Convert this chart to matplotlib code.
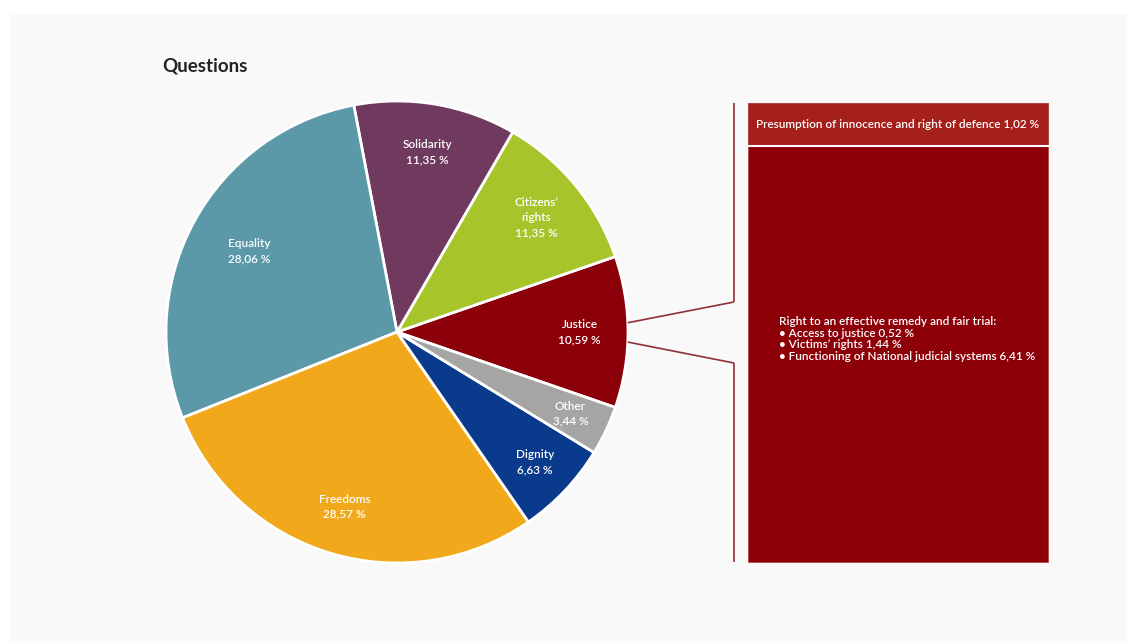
import numpy as np
import matplotlib
matplotlib.use('Agg')
import matplotlib.pyplot as plt
from matplotlib.patches import Rectangle

# Share of questions per Charter chapter (%), counter-clockwise from Justice
chapters = ['Justice', 'Citizens\u2019\nrights', 'Solidarity', 'Equality',
            'Freedoms', 'Dignity', 'Other']
shares = [10.59, 11.35, 11.35, 28.06, 28.57, 6.63, 3.44]
colours = ['#8c0009', '#a7c52a', '#6f3a5e', '#5b99a9', '#f1a91b',
           '#0a3a8b', '#a5a5a3']

# Breakdown of the Justice chapter
header_text = 'Presumption of innocence and right of defence 1,02 %'
detail_title = 'Right to an effective remedy and fair trial:'
detail_items = ['Access to justice 0,52 %', 'Victims\u2019 rights 1,44 %',
                'Functioning of National judicial systems 6,41 %']

W, H = 1127, 643
BG = '#f9f9f9'
FONT = ['Lato', 'DejaVu Sans']


def fmt(v):
    return '{:.2f} %'.format(v).replace('.', ',')


fig = plt.figure(figsize=(W / 100, H / 100), dpi=100, facecolor=BG)
ax = fig.add_axes([0, 0, 1, 1])
ax.set_facecolor(BG)

# white strips along the top and left edge
ax.add_patch(Rectangle((0, H - 13), W, 13, color='white', zorder=0))
ax.add_patch(Rectangle((0, 0), 9, H, color='white', zorder=0))

cx, cy, R = 397, H - 332, 231
start = -shares[0] * 3.6 / 2
wedges, _ = ax.pie(shares, colors=colours, startangle=start,
                   counterclock=True, center=(cx, cy), radius=R, frame=True,
                   wedgeprops=dict(edgecolor='white', linewidth=2))

# slice labels, placed along each wedge's bisector
label_r = [0.79, 0.78, 0.79, 0.73, 0.79, 0.82, 0.83]
for w, name, val, fr in zip(wedges, chapters, shares, label_r):
    ang = np.deg2rad((w.theta1 + w.theta2) / 2)
    ax.text(cx + fr * R * np.cos(ang), cy + fr * R * np.sin(ang),
            name + '\n' + fmt(val), ha='center', va='center', color='white',
            fontsize=8.5, linespacing=1.45, family=FONT, fontweight='semibold')

# bracket joining the Justice slice to the detail box
line_kw = dict(color='#8e3035', lw=1.2, solid_capstyle='butt')
bx = 734
for a, yb, yend in [(2.3, H - 302, H - 103), (-2.5, H - 363, H - 562)]:
    t = np.deg2rad(a)
    ax.plot([cx + R * np.cos(t), bx], [cy + R * np.sin(t), yb], **line_kw)
    ax.plot([bx, bx], [yb, yend], **line_kw)

# detail box
x0, x1 = 748, 1048
top, sep, bot = H - 103, H - 146, H - 562
ax.add_patch(Rectangle((x0, bot), x1 - x0, top - bot, facecolor='#8e0008',
                       edgecolor='#b4474a', lw=0.6))
ax.add_patch(Rectangle((x0, sep), x1 - x0, top - sep, facecolor='#a51f1b',
                       edgecolor='#b4474a', lw=0.6))
ax.plot([x0, x1], [sep, sep], color='white', lw=1.5)
ax.text((x0 + x1) / 2, (top + sep) / 2, header_text, ha='center', va='center',
        color='white', fontsize=8.5, family=FONT, fontweight='semibold')
detail = detail_title + '\n' + '\n'.join('\u2022 ' + s for s in detail_items)
ax.text(779, H - 339, detail, ha='left', va='center', color='white',
        fontsize=8.5, linespacing=1.1, family=FONT, fontweight='semibold')

ax.text(162, H - 66, 'Questions', ha='left', va='center', color='#222222',
        fontsize=13.5, fontweight='bold', family=FONT)

ax.set_xlim(0, W)
ax.set_ylim(0, H)
ax.set_aspect('equal')
ax.axis('off')

fig.savefig('out.png', dpi=100, facecolor=BG)
